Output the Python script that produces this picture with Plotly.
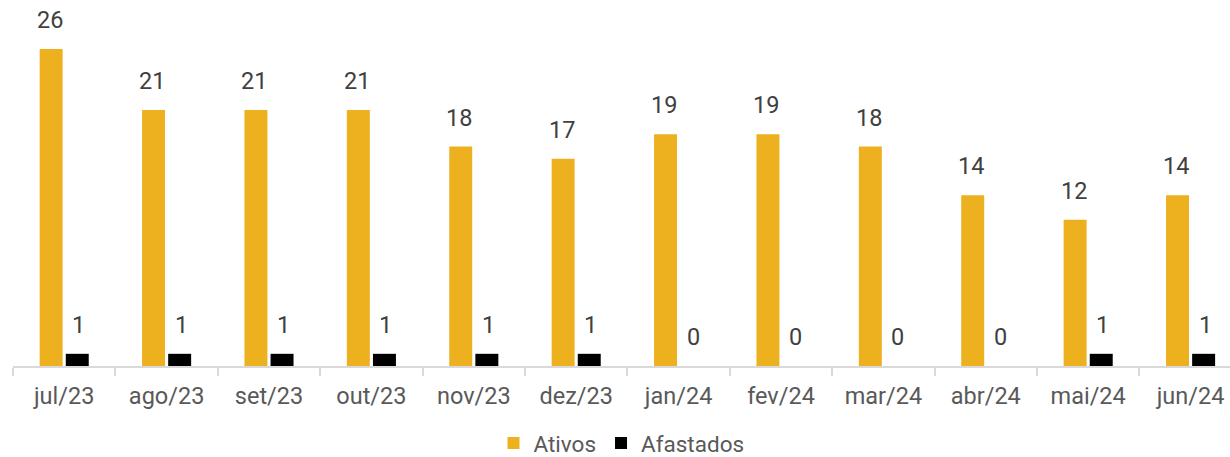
import plotly.graph_objects as go

categories = ["jul/23", "ago/23", "set/23", "out/23", "nov/23", "dez/23",
              "jan/24", "fev/24", "mar/24", "abr/24", "mai/24", "jun/24"]
ativos = [26, 21, 21, 21, 18, 17, 19, 19, 18, 14, 12, 14]
afastados = [1, 1, 1, 1, 1, 1, 0, 0, 0, 0, 1, 1]

GOLD = "#EDB120"
BLACK = "#000000"
FONT = "Roboto"

fig = go.Figure()
fig.add_trace(go.Bar(x=categories, y=ativos, name="Ativos", marker_color=GOLD,
                     marker_line_width=0))
fig.add_trace(go.Bar(x=categories, y=afastados, name="Afastados", marker_color=BLACK,
                     marker_line_width=0))

annotations = []
for c, a, b in zip(categories, ativos, afastados):
    for val, shift in ((a, -14.5), (b, 14.5)):
        annotations.append(dict(x=c, y=val, text=str(val), showarrow=False,
                                xshift=shift, yanchor="bottom", yshift=13,
                                font=dict(family=FONT, size=23.5, color="#404040")))

fig.update_layout(
    width=1230, height=457,
    margin=dict(l=13, r=0, t=20, b=91),
    paper_bgcolor="white", plot_bgcolor="white",
    barmode="group", bargap=0.49, bargroupgap=0.12,
    font=dict(family=FONT, size=23.5, color="#595959"),
    annotations=annotations,
    showlegend=True,
    legend=dict(orientation="h", xanchor="center", x=0.5, yref="container",
                y=0.03, yanchor="middle", font=dict(size=22.5, color="#595959"),
                itemwidth=30, traceorder="normal"),
    xaxis=dict(range=[-0.5, 11.385], showline=True, linecolor="#D9D9D9", linewidth=2,
               ticks="outside", tickson="boundaries", ticklen=8, tickcolor="#D9D9D9",
               tickwidth=2, showgrid=False, ticklabelstandoff=8,
               tickfont=dict(size=23.5, color="#595959")),
    yaxis=dict(range=[0, 28.38], visible=False, showgrid=False, zeroline=False),
)

fig.write_html("out.html", config={"displayModeBar": False},
               post_script="document.body.style.margin='0';")
